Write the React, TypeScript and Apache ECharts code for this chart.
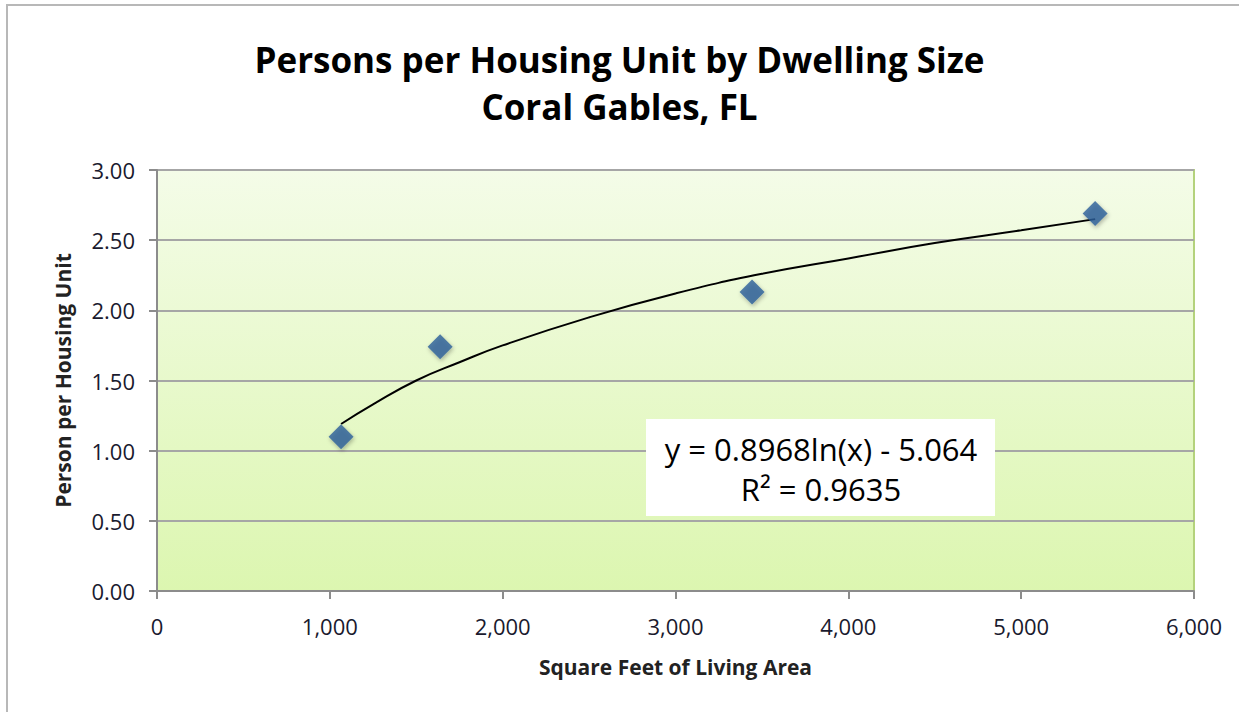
import React, { useEffect, useRef } from "react";
import * as echarts from "echarts";

const titleLines = ["Persons per Housing Unit by Dwelling Size", "Coral Gables, FL"];
const xAxisName = "Square Feet of Living Area";
const yAxisName = "Person per Housing Unit";
const sqft = [1065, 1638, 3443, 5428];
const persons = [1.1, 1.74, 2.13, 2.69];
const trendX = [1065, 1250, 1500, 1750, 2000, 2500, 3000, 3500, 4000, 4500, 5000, 5428];
const trendY = [1.19, 1.33, 1.50, 1.63, 1.75, 1.95, 2.12, 2.26, 2.37, 2.48, 2.57, 2.65];
const equationText = ["y = 0.8968ln(x) - 5.064", "R² = 0.9635"];

export default function App() {
  const ref = useRef<HTMLDivElement>(null);
  useEffect(() => {
    document.body.style.margin = "0";
    const chart = echarts.init(ref.current!, null, { renderer: "svg" });
    const font = "'Open Sans', 'Liberation Sans', sans-serif";
    chart.setOption({
      animation: false,
      backgroundColor: "#ffffff",
      textStyle: { fontFamily: font },
      title: {
        text: titleLines.join("\n"),
        left: "center",
        top: 31,
        textStyle: { fontSize: 35, fontWeight: "bold", color: "#000", lineHeight: 47, fontFamily: font },
      },
      grid: { left: 157, right: 45, top: 170, bottom: 121 },
      xAxis: {
        type: "value",
        min: 0,
        max: 6000,
        interval: 1000,
        name: xAxisName,
        nameLocation: "middle",
        nameGap: 65,
        nameTextStyle: { fontSize: 21, fontWeight: "bold", color: "#222", fontFamily: font },
        axisLine: { show: true, lineStyle: { color: "#8c8c8c", width: 2 } },
        axisTick: { show: true, inside: false, length: 8, lineStyle: { color: "#8c8c8c", width: 2 } },
        axisLabel: {
          fontSize: 22,
          color: "#1a1a2e",
          margin: 24,
          formatter: (v: number) => v.toLocaleString("en-US"),
        },
        splitLine: { show: false },
      },
      yAxis: {
        type: "value",
        min: 0,
        max: 3,
        interval: 0.5,
        name: yAxisName,
        nameLocation: "middle",
        nameGap: 84,
        nameRotate: 90,
        nameTextStyle: { fontSize: 21, fontWeight: "bold", color: "#222", fontFamily: font },
        axisLine: { show: true, lineStyle: { color: "#8c8c8c", width: 2 } },
        axisTick: { show: true, inside: false, length: 8, lineStyle: { color: "#8c8c8c", width: 2 } },
        axisLabel: {
          fontSize: 22,
          color: "#1a1a2e",
          margin: 22,
          formatter: (v: number) => v.toFixed(2),
        },
        splitLine: { show: true, lineStyle: { color: "#a6a6a6", width: 2 } },
      },
      graphic: [
        {
          type: "rect",
          shape: { x: 7, y: 5, width: 1240, height: 720 },
          style: { fill: "none", stroke: "#b8b8b8", lineWidth: 2 },
          z: 100,
        },
        {
          type: "rect",
          shape: { x: 157, y: 170, width: 1037, height: 421 },
          style: {
            fill: new echarts.graphic.LinearGradient(0, 0, 0, 1, [
              { offset: 0, color: "#f4fce8" },
              { offset: 1, color: "#dcf6b0" },
            ]),
            stroke: "#b4d27c",
            lineWidth: 2,
          },
          z: -10,
          silent: true,
        },
        {
          type: "rect",
          shape: { x: 646, y: 419, width: 349, height: 97 },
          style: { fill: "#ffffff" },
          z: 50,
        },
        {
          type: "text",
          x: 821,
          y: 469,
          style: {
            text: equationText.join("\n"),
            fontSize: 31,
            lineHeight: 40,
            fill: "#000",
            align: "center",
            verticalAlign: "middle",
            fontFamily: font,
          },
          z: 51,
        },
      ],
      series: [
        {
          type: "line",
          data: trendX.map((x, i) => [x, trendY[i]]),
          smooth: true,
          showSymbol: false,
          lineStyle: { color: "#000", width: 2 },
          z: 3,
        },
        {
          type: "scatter",
          data: sqft.map((x, i) => [x, persons[i]]),
          symbol: "diamond",
          symbolSize: [25, 25],
          itemStyle: {
            color: "#2a5f9a",
            shadowColor: "rgba(0,0,0,0.35)",
            shadowBlur: 4,
            shadowOffsetX: 1,
            shadowOffsetY: 2,
          },
          z: 4,
        },
      ],
    });
    return () => chart.dispose();
  }, []);
  return <div ref={ref} style={{ width: 1239, height: 712 }} />;
}
